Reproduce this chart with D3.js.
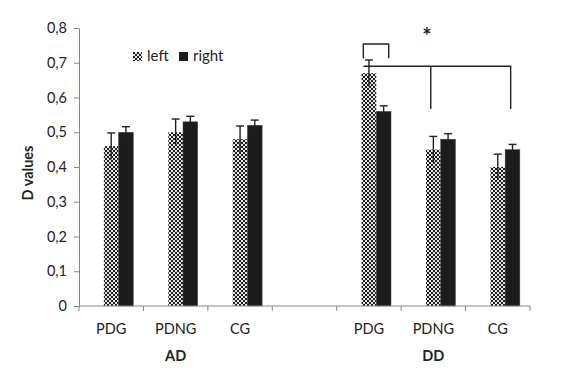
<!DOCTYPE html>
<html lang="en">
<head>
    <meta charset="UTF-8">
    <title>D values</title>
    <script src="https://d3js.org/d3.v7.min.js"></script>
    <style>
        body { margin: 0; background: #fff; }
        text { font-family: Lato, "Open Sans", sans-serif; fill: #222; }
    </style>
</head>
<body>
    <svg id="chart" width="571" height="386"></svg>

    <script>
        // categories (blank slot between the two groups)
        const categories = ["PDG", "PDNG", "CG", "", "PDG ", "PDNG ", "CG "];
        const groups = [{name: "AD", cat: "PDNG"}, {name: "DD", cat: "PDNG "}];
        const series = ["left", "right"];
        // values (null = empty slot)
        const leftValues  = [0.46, 0.50, 0.48, null, 0.67, 0.45, 0.40];
        const rightValues = [0.50, 0.53, 0.52, null, 0.56, 0.48, 0.45];
        const leftErr  = [0.038, 0.038, 0.038, null, 0.038, 0.038, 0.037];
        const rightErr = [0.016, 0.016, 0.015, null, 0.016, 0.016, 0.015];
        const yTicks = [0, 0.1, 0.2, 0.3, 0.4, 0.5, 0.6, 0.7, 0.8];

        const margin = {top: 28, right: 41, bottom: 80, left: 79};
        const width = 571 - margin.left - margin.right;
        const height = 386 - margin.top - margin.bottom;

        const svg = d3.select("#chart");

        // checkered fill for "left"
        const defs = svg.append("defs");
        const pat = defs.append("pattern")
            .attr("id", "checker")
            .attr("patternUnits", "userSpaceOnUse")
            .attr("width", 4).attr("height", 4);
        pat.append("rect").attr("width", 4).attr("height", 4).attr("fill", "#e6e6e6");
        pat.append("rect").attr("width", 2).attr("height", 2).attr("fill", "#1e1e1e");
        pat.append("rect").attr("x", 2).attr("y", 2).attr("width", 2).attr("height", 2).attr("fill", "#1e1e1e");

        const g = svg.append("g").attr("transform", `translate(${margin.left},${margin.top})`);

        const x = d3.scaleBand().domain(categories).range([0, width]);
        // three slots per category, the first one is empty (as in the original sheet)
        const xs = d3.scaleBand().domain(["_", ...series]).range([0, x.bandwidth()])
            .paddingInner(0).paddingOuter(0.69);
        const y = d3.scaleLinear().domain([0, 0.8]).range([height, 0]);

        const fills = {left: "url(#checker)", right: "#1c1c1c"};
        const vals = {left: leftValues, right: rightValues};
        const errs = {left: leftErr, right: rightErr};

        // bars
        series.forEach(s => {
            const data = categories.map((c, i) => ({c, v: vals[s][i], e: errs[s][i]}))
                .filter(d => d.v != null);
            g.selectAll(null).data(data).enter().append("rect")
                .attr("x", d => x(d.c) + xs(s))
                .attr("y", d => y(d.v))
                .attr("width", xs.bandwidth())
                .attr("height", d => y(0) - y(d.v))
                .attr("fill", fills[s])
                .attr("stroke", s === "right" ? "#444" : "none")
                .attr("stroke-width", 0.5);

            // error bars
            const cx = d => x(d.c) + xs(s) + xs.bandwidth() / 2;
            const eb = g.selectAll(null).data(data).enter().append("g")
                .attr("stroke", "#222").attr("stroke-width", 1.4);
            eb.append("line")
                .attr("x1", cx).attr("x2", cx)
                .attr("y1", d => y(d.v - d.e)).attr("y2", d => y(d.v + d.e));
            eb.append("line")
                .attr("x1", d => cx(d) - 4).attr("x2", d => cx(d) + 4)
                .attr("y1", d => y(d.v + d.e)).attr("y2", d => y(d.v + d.e));
        });

        // axes
        const axisColor = "#868686";
        const yAxis = g.append("g")
            .call(d3.axisLeft(y).tickValues(yTicks).tickSize(5).tickSizeOuter(0)
                .tickFormat(d => d === 0 ? "0" : d3.format(".1f")(d).replace(".", ",")));
        yAxis.select(".domain").attr("stroke", axisColor);
        yAxis.selectAll(".tick line").attr("stroke", axisColor);
        yAxis.selectAll(".tick text").attr("x", -12).attr("font-size", 14.5)
            .attr("font-family", "Lato, sans-serif").attr("fill", "#222");

        const xAxis = g.append("g").attr("transform", `translate(0,${height})`);
        xAxis.append("line").attr("x1", 0).attr("x2", width)
            .attr("stroke", axisColor);
        const bounds = d3.range(categories.length + 1).map(i => i * x.step());
        xAxis.selectAll(null).data(bounds).enter().append("line")
            .attr("x1", d => d).attr("x2", d => d)
            .attr("y1", 0).attr("y2", 5)
            .attr("stroke", axisColor);
        xAxis.selectAll(null).data(categories).enter().append("text")
            .attr("x", d => x(d) + x.bandwidth() / 2)
            .attr("y", 28)
            .attr("text-anchor", "middle")
            .attr("font-size", 14.5)
            .text(d => d.trim());
        xAxis.selectAll(null).data(groups).enter().append("text")
            .attr("x", d => x(d.cat) + x.bandwidth() / 2)
            .attr("y", 55)
            .attr("text-anchor", "middle")
            .attr("font-size", 14.5)
            .attr("font-weight", "bold")
            .text(d => d.name);

        // y title
        svg.append("text")
            .attr("transform", `translate(33,${margin.top + height / 2 + 6}) rotate(-90)`)
            .attr("text-anchor", "middle")
            .attr("font-size", 14.5)
            .attr("font-weight", "bold")
            .text("D values");

        // legend
        const legend = g.append("g").attr("transform", "translate(54,24)");
        series.forEach((s, i) => {
            const lg = legend.append("g").attr("transform", `translate(${i * 46},0)`);
            lg.append("rect").attr("width", 9).attr("height", 9).attr("fill", fills[s]);
            lg.append("text").attr("x", 14).attr("y", 9).attr("font-size", 15).text(s);
        });

        // significance brackets (DD group)
        const px = (c, f) => x(c) + f * x.bandwidth();
        const small = {c1: "PDG ", f1: 0.413, c2: "PDG ", f2: 0.807, top: 0.754, bottom: 0.713};
        const big = {c0: "PDG ", f0: 0.413, drops: [["PDNG ", 0.46], ["CG ", 0.70]], top: 0.69, bottom: 0.567};
        const br = g.append("g").attr("fill", "none").attr("stroke", "#222").attr("stroke-width", 1.4);
        br.append("path").attr("d", d3.line()([
            [px(small.c1, small.f1), y(small.bottom)], [px(small.c1, small.f1), y(small.top)],
            [px(small.c2, small.f2), y(small.top)], [px(small.c2, small.f2), y(small.bottom)]]));
        const last = big.drops[big.drops.length - 1];
        br.append("path").attr("d", d3.line()([
            [px(big.c0, big.f0), y(big.top)], [px(last[0], last[1]), y(big.top)],
            [px(last[0], last[1]), y(big.bottom)]]));
        big.drops.slice(0, -1).forEach(dp => {
            br.append("line")
                .attr("x1", px(dp[0], dp[1])).attr("x2", px(dp[0], dp[1]))
                .attr("y1", y(big.top)).attr("y2", y(big.bottom));
        });
        g.append("text")
            .attr("x", px("PDNG ", 0.4))
            .attr("y", y(0.755))
            .attr("text-anchor", "middle")
            .attr("font-size", 22)
            .attr("font-weight", "bold")
            .text("*");
    </script>
</body>
</html>
